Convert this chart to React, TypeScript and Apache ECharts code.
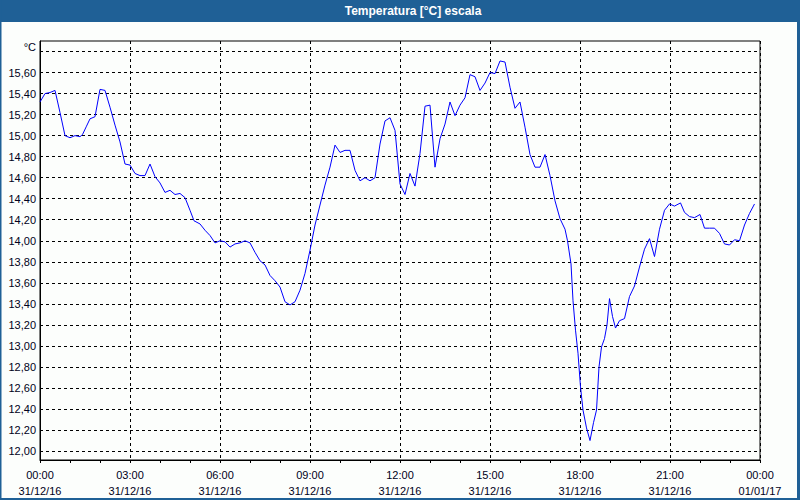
import React, { useEffect, useRef } from "react";
import * as echarts from "echarts";

// minutes since 00:00 31/12/16
const times: number[] = [
  0, 10, 20, 30, 40, 50, 60, 70, 80, 85, 93, 100, 110, 120, 130, 140, 150, 160, 170, 180,
  190, 200, 210, 220, 230, 240, 250, 260, 270, 280, 290, 300, 308, 320, 330, 340, 350, 360,
  370, 380, 390, 400, 410, 420, 430, 440, 450, 460, 470, 480, 490, 500, 510, 520, 530, 540,
  550, 560, 570, 580, 590, 600, 610, 620, 630, 640, 650, 660, 670, 680, 690, 700, 710, 720,
  730, 740, 750, 760, 770, 780, 790, 800, 810, 820, 830, 840, 850, 860, 870, 880, 890, 900,
  910, 920, 930, 940, 950, 960, 970, 980, 990, 1000, 1010, 1020, 1030, 1040, 1050, 1055,
  1062, 1066, 1071, 1076, 1081, 1086, 1093, 1100, 1107, 1113, 1118, 1123, 1129, 1134, 1139,
  1145, 1151, 1159, 1169, 1179, 1189, 1199, 1209, 1219, 1229, 1239, 1249, 1259, 1269, 1281,
  1289, 1299, 1309, 1320, 1329, 1339, 1349, 1359, 1369, 1379, 1389, 1399, 1409, 1419, 1429,
];

const temps: number[] = [
  15.32, 15.40, 15.41, 15.43, 15.22, 15.00, 14.98, 15.00, 14.99, 15.01, 15.09, 15.16, 15.18,
  15.44, 15.43, 15.27, 15.10, 14.94, 14.73, 14.72, 14.64, 14.62, 14.62, 14.73, 14.61, 14.55,
  14.46, 14.48, 14.44, 14.45, 14.41, 14.29, 14.19, 14.16, 14.10, 14.05, 13.98, 14.00, 13.99,
  13.94, 13.97, 13.98, 14.00, 13.98, 13.89, 13.81, 13.77, 13.67, 13.62, 13.56, 13.42, 13.39,
  13.42, 13.53, 13.69, 13.91, 14.15, 14.34, 14.53, 14.70, 14.91, 14.84, 14.86, 14.86, 14.67,
  14.57, 14.60, 14.57, 14.60, 14.92, 15.14, 15.17, 15.05, 14.54, 14.44, 14.64, 14.52, 14.83,
  15.28, 15.29, 14.70, 14.97, 15.11, 15.32, 15.19, 15.29, 15.36, 15.58, 15.56, 15.43, 15.50,
  15.60, 15.59, 15.71, 15.70, 15.46, 15.26, 15.32, 15.08, 14.82, 14.70, 14.70, 14.82, 14.62,
  14.38, 14.21, 14.11, 14.00, 13.78, 13.43, 13.15, 12.93, 12.61, 12.39, 12.22, 12.10, 12.27,
  12.39, 12.80, 12.99, 13.07, 13.20, 13.45, 13.28, 13.17, 13.24, 13.26, 13.47, 13.57, 13.75,
  13.92, 14.02, 13.85, 14.11, 14.29, 14.35, 14.33, 14.36, 14.27, 14.23, 14.22, 14.25, 14.12,
  14.12, 14.12, 14.07, 13.97, 13.96, 14.01, 14.00, 14.15, 14.26, 14.35,
];

const xTickLabels: string[] = [
  "00:00\n31/12/16",
  "03:00\n31/12/16",
  "06:00\n31/12/16",
  "09:00\n31/12/16",
  "12:00\n31/12/16",
  "15:00\n31/12/16",
  "18:00\n31/12/16",
  "21:00\n31/12/16",
  "00:00\n01/01/17",
];

const yGridValues: number[] = [
  12.0, 12.2, 12.4, 12.6, 12.8, 13.0, 13.2, 13.4, 13.6, 13.8, 14.0, 14.2, 14.4, 14.6, 14.8,
  15.0, 15.2, 15.4, 15.6, 15.8,
];
const yLabelValues: number[] = yGridValues.filter((v) => v < 15.7);

const titleText = "Temperatura [°C] escala";
const unitText = "°C";

const FONT = "'Liberation Sans', Arial, sans-serif";
const BLUE = "#1f6096";
const BG = "#fcfefc";

export default function App() {
  const ref = useRef<HTMLDivElement>(null);

  useEffect(() => {
    if (!ref.current) return;
    const chart = echarts.init(ref.current, undefined, { renderer: "svg" });
    chart.setOption({
      animation: false,
      backgroundColor: BG,
      graphic: [
        { type: "rect", shape: { x: 0, y: 0, width: 800, height: 22 }, style: { fill: BLUE }, z: 10 },
        { type: "rect", shape: { x: 0, y: 0, width: 1.5, height: 500 }, style: { fill: BLUE }, z: 10 },
        { type: "rect", shape: { x: 797, y: 0, width: 3, height: 500 }, style: { fill: BLUE }, z: 10 },
        { type: "rect", shape: { x: 0, y: 498, width: 800, height: 2 }, style: { fill: BLUE }, z: 10 },
        {
          type: "text",
          x: 413,
          y: 11,
          z: 11,
          style: {
            text: titleText,
            fill: "#ffffff",
            font: `bold 12px ${FONT}`,
            align: "center",
            verticalAlign: "middle",
          },
        },
      ],
      grid: {
        left: 40,
        right: 40,
        top: 41,
        bottom: 40,
        show: true,
        borderColor: "#000",
        borderWidth: 1,
        backgroundColor: BG,
      },
      xAxis: {
        type: "value",
        min: 0,
        max: 1440,
        interval: 180,
        axisLine: { show: true, lineStyle: { color: "#000", width: 1 } },
        axisTick: { show: true, length: 3, lineStyle: { color: "#000" } },
        minorTick: { show: true, splitNumber: 3, length: 3, lineStyle: { color: "#000" } },
        splitLine: { show: true, lineStyle: { color: "#000", type: [3, 3], width: 1 } },
        axisLabel: {
          margin: 7,
          lineHeight: 16,
          fontFamily: FONT,
          fontSize: 11,
          color: "#000020",
          formatter: (v: number) => xTickLabels[Math.round(v / 180)] ?? "",
        },
      },
      yAxis: {
        type: "value",
        min: 11.915,
        max: 15.9,
        name: unitText,
        nameLocation: "end",
        nameGap: -6,
        nameTextStyle: {
          fontFamily: FONT,
          fontSize: 11,
          color: "#000020",
          align: "right",
          verticalAlign: "middle",
          padding: [0, 4, 0, 0],
        },
        axisLine: { show: true, lineStyle: { color: "#000", width: 1 } },
        axisTick: { show: false, customValues: yGridValues },
        splitLine: { show: true, lineStyle: { color: "#000", type: [3, 3], width: 1 } },
        axisLabel: {
          customValues: yLabelValues,
          margin: 4,
          fontFamily: FONT,
          fontSize: 11,
          color: "#000020",
          formatter: (v: number) => v.toFixed(2).replace(".", ","),
        },
      },
      series: [
        {
          type: "line",
          data: times.map((t, i) => [t, temps[i]]),
          symbol: "none",
          lineStyle: { color: "#0000ff", width: 1 },
          z: 5,
        },
      ],
    });
    return () => chart.dispose();
  }, []);

  return (
    <div
      ref={ref}
      style={{ position: "fixed", left: 0, top: 0, width: 800, height: 500 }}
    />
  );
}
